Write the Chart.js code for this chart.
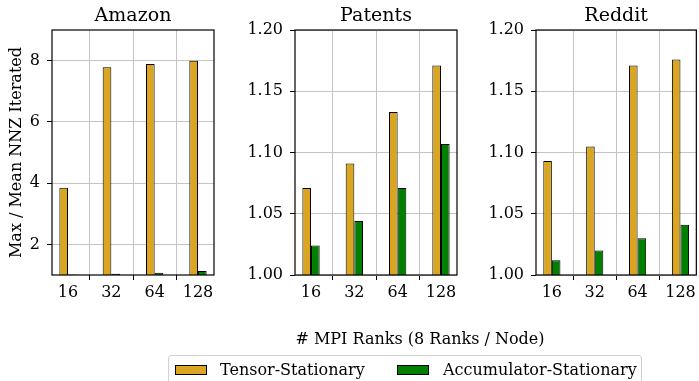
<!DOCTYPE html>
<html>
<head>
<meta charset="utf-8">
<script src="https://cdn.jsdelivr.net/npm/chart.js@4.4.1/dist/chart.umd.min.js"></script>
<style>
  html, body { margin: 0; padding: 0; background: #fff; }
  #fig { position: relative; width: 699px; height: 381px; overflow: hidden; font-family: "DejaVu Serif", serif; color: #000; }
  #fig canvas { position: absolute; left: 0; top: 0; }
  #xlabel { position: absolute; left: 220px; width: 400px; top: 330px; line-height: 18px; font-size: 16px; text-align: center; white-space: nowrap; }
  #legend { position: absolute; left: 168px; top: 355px; width: 474px; height: 40px; box-sizing: border-box; border: 1px solid #d0d0d0; border-radius: 3px; background: #fff; }
  #legend .sw { position: absolute; top: 9px; width: 32px; height: 10px; box-sizing: border-box; border: 1px solid #000; }
  #legend .lt { position: absolute; top: 5px; line-height: 18px; font-size: 16px; white-space: nowrap; }
</style>
</head>
<body>
<div id="fig">
  <canvas id="amazon" width="699" height="381"></canvas>
  <canvas id="patents" width="699" height="381"></canvas>
  <canvas id="reddit" width="699" height="381"></canvas>
  <div id="xlabel"># MPI Ranks (8 Ranks / Node)</div>
  <div id="legend">
    <span class="sw" id="swT" style="left:6px"></span><span class="lt" id="ltT" style="left:51px"></span>
    <span class="sw" id="swA" style="left:228px"></span><span class="lt" id="ltA" style="left:274px"></span>
  </div>
</div>
<script>
// MPI rank counts along the x axis
const ranks = ['16', '32', '64', '128'];

// Max / mean nonzeros iterated, per dataset and strategy
const amazonTensor = [3.85, 7.78, 7.89, 8.00];
const amazonAccum  = [1.02, 1.04, 1.07, 1.13];
const patentsTensor = [1.071, 1.091, 1.133, 1.171];
const patentsAccum  = [1.024, 1.044, 1.071, 1.107];
const redditTensor = [1.093, 1.105, 1.171, 1.176];
const redditAccum  = [1.012, 1.020, 1.030, 1.041];

// y tick values
const amazonTicks = [2, 4, 6, 8];
const ratioTicks = [1.00, 1.05, 1.10, 1.15, 1.20];

const seriesNames = ['Tensor-Stationary', 'Accumulator-Stationary'];
const tensorColor = '#DAA520';
const accumColor = '#008000';

// shared legend below the panels
document.getElementById('swT').style.background = tensorColor;
document.getElementById('swA').style.background = accumColor;
document.getElementById('ltT').textContent = seriesNames[0];
document.getElementById('ltA').textContent = seriesNames[1];

const FONT = 'DejaVu Serif';
const W = 699, H = 381;
const PLOT_TOP = 30, PLOT_BOTTOM = 275, X_AXIS_H = 30;
const TITLE_SIZE = 19, LABEL_SIZE = 16, TITLE_PAD_TOP = 5;

// Draws the closed black frame around each plot area
const framePlugin = {
  id: 'frame',
  afterDatasetsDraw(chart) {
    const { ctx, chartArea: a } = chart;
    ctx.save();
    ctx.strokeStyle = '#000';
    ctx.lineWidth = 1.2;
    ctx.strokeRect(a.left, a.top, a.right - a.left, a.bottom - a.top);
    ctx.restore();
  }
};

function toPoints(values) {
  return values.map((v, i) => ({ x: i, y: v }));
}

function makePanel(id, title, tensor, accum, yMin, yMax, yTicks, fmt, left, right, yAxisW, yTitle) {
  const yScale = {
    min: yMin,
    max: yMax,
    afterBuildTicks: s => { s.ticks = yTicks.map(v => ({ value: v })); },
    afterFit: s => { s.width = yAxisW; },
    ticks: { callback: v => fmt(v), font: { family: FONT, size: LABEL_SIZE }, color: '#000', padding: 7 },
    grid: { color: '#c4c4c4', lineWidth: 1, tickColor: '#000', tickLength: 5 },
    border: { display: false }
  };
  if (yTitle) {
    yScale.title = { display: true, text: yTitle, font: { family: FONT, size: LABEL_SIZE }, color: '#000', padding: { top: 7, bottom: 0 } };
  }
  return new Chart(document.getElementById(id), {
    type: 'bar',
    data: {
      datasets: [
        { label: seriesNames[0], data: toPoints(tensor), backgroundColor: tensorColor, borderColor: '#000', borderWidth: 1, borderSkipped: false, clip: 0 },
        { label: seriesNames[1], data: toPoints(accum), backgroundColor: accumColor, borderColor: '#000', borderWidth: 1, borderSkipped: false, clip: 0 }
      ]
    },
    options: {
      responsive: false,
      animation: false,
      devicePixelRatio: 1,
      layout: { padding: { left: left - yAxisW, right: W - right, top: TITLE_PAD_TOP, bottom: H - PLOT_BOTTOM - X_AXIS_H } },
      datasets: { bar: { categoryPercentage: 0.4, barPercentage: 1.0 } },
      plugins: {
        legend: { display: false },
        tooltip: { enabled: false },
        title: {
          display: true, text: title, fullSize: false, color: '#000',
          font: { family: FONT, size: TITLE_SIZE, weight: 'normal' },
          padding: { top: 0, bottom: PLOT_TOP - TITLE_PAD_TOP - TITLE_SIZE * 1.2 }
        }
      },
      scales: {
        x: {
          type: 'linear', min: -0.37, max: 3.37, offset: false,
          afterBuildTicks: s => { s.ticks = ranks.map((_, i) => ({ value: i })); },
          afterFit: s => { s.height = X_AXIS_H; },
          ticks: { callback: v => ranks[v], font: { family: FONT, size: LABEL_SIZE }, color: '#000', padding: 3, maxRotation: 0, autoSkip: false },
          grid: { color: '#c4c4c4', lineWidth: 1, tickColor: '#000', tickLength: 5 },
          border: { display: false }
        },
        y: yScale
      }
    },
    plugins: [framePlugin]
  });
}

const intFmt = v => String(v);
const ratioFmt = v => v.toFixed(2);

makePanel('amazon', 'Amazon', amazonTensor, amazonAccum, 1, 9, amazonTicks, intFmt, 52, 214, 52, 'Max / Mean NNZ Iterated');
makePanel('patents', 'Patents', patentsTensor, patentsAccum, 1.0, 1.2, ratioTicks, ratioFmt, 295, 457, 50, null);
makePanel('reddit', 'Reddit', redditTensor, redditAccum, 1.0, 1.2, ratioTicks, ratioFmt, 536, 697, 50, null);
</script>
</body>
</html>
